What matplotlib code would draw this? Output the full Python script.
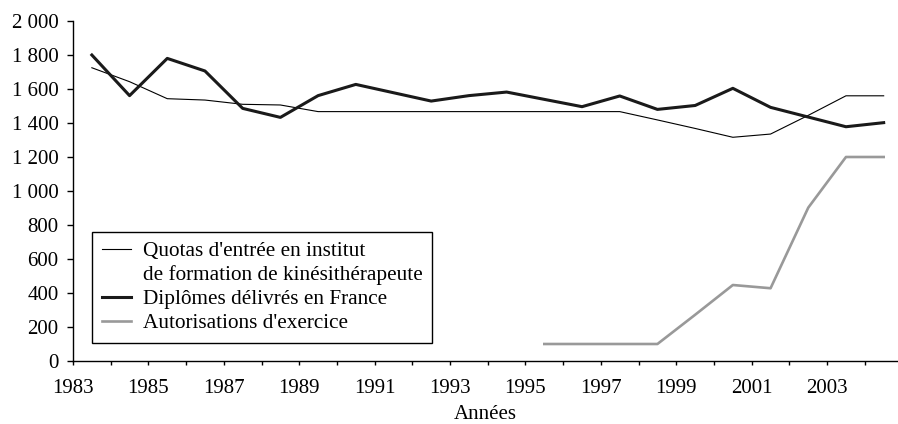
import matplotlib
matplotlib.use('Agg')
import matplotlib.pyplot as plt
from matplotlib.lines import Line2D
from matplotlib.ticker import FuncFormatter, MultipleLocator

plt.rcParams['font.family'] = ['Liberation Serif', 'DejaVu Serif']

# data points sit in the middle of each year
years = [y + 0.5 for y in range(1983, 2005)]

quotas = [1725, 1643, 1543, 1535, 1510, 1506, 1467, 1467, 1467, 1467, 1467,
          1467, 1467, 1467, 1467, 1418, 1368, 1316, 1335, 1445, 1560, 1560]
diplomes = [1800, 1561, 1780, 1706, 1486, 1433, 1561, 1627, 1578, 1529, 1561,
            1582, 1539, 1496, 1559, 1480, 1503, 1604, 1492, 1435, 1378, 1402]
auto_years = years[12:]
autorisations = [100, 100, 100, 100, 272, 447, 428, 902, 1200, 1200]

tick_years = list(range(1983, 2004, 2))

fig = plt.figure(figsize=(8.98, 4.24), dpi=100)
ax = fig.add_axes([73 / 898, 1 - 361 / 424, 825 / 898, 340 / 424])

ax.plot(years, quotas, color='black', lw=0.8)
ax.plot(years, diplomes, color='#1a1a1a', lw=2.2)
ax.plot(auto_years, autorisations, color='#999999', lw=1.9)

ax.set_xlim(1983, 2004.88)
ax.set_ylim(0, 2000)
ax.set_xticks(range(1983, 2005))
ax.set_xticklabels([str(y) if y in tick_years else '' for y in range(1983, 2005)])
ax.yaxis.set_major_locator(MultipleLocator(200))
ax.yaxis.set_major_formatter(FuncFormatter(lambda v, p: f'{int(v):,}'.replace(',', ' ')))

for s in ['top', 'right']:
    ax.spines[s].set_visible(False)
for s in ['left', 'bottom']:
    ax.spines[s].set_linewidth(1.0)
ax.tick_params(axis='x', direction='out', length=3, width=1, labelsize=15, pad=10)
ax.tick_params(axis='y', direction='out', length=4.5, width=1, labelsize=15, pad=6)
ax.set_xlabel('Années', fontsize=15, labelpad=5)

handles = [
    Line2D([], [], color='black', lw=0.8),
    Line2D([], [], color='none', lw=0),
    Line2D([], [], color='#1a1a1a', lw=2.2),
    Line2D([], [], color='#999999', lw=1.9),
]
labels = ["Quotas d'entrée en institut",
          "de formation de kinésithérapeute",
          "Diplômes délivrés en France",
          "Autorisations d'exercice"]
leg = ax.legend(handles, labels, loc='lower left', bbox_to_anchor=(0.023, 0.053),
                borderaxespad=0, fontsize=15.3, fancybox=False, frameon=True,
                edgecolor='black', framealpha=1, handlelength=1.4,
                handletextpad=0.55, labelspacing=0.2, borderpad=0.45)
leg.get_frame().set_linewidth(1.0)

fig.savefig('out.png', dpi=100)
